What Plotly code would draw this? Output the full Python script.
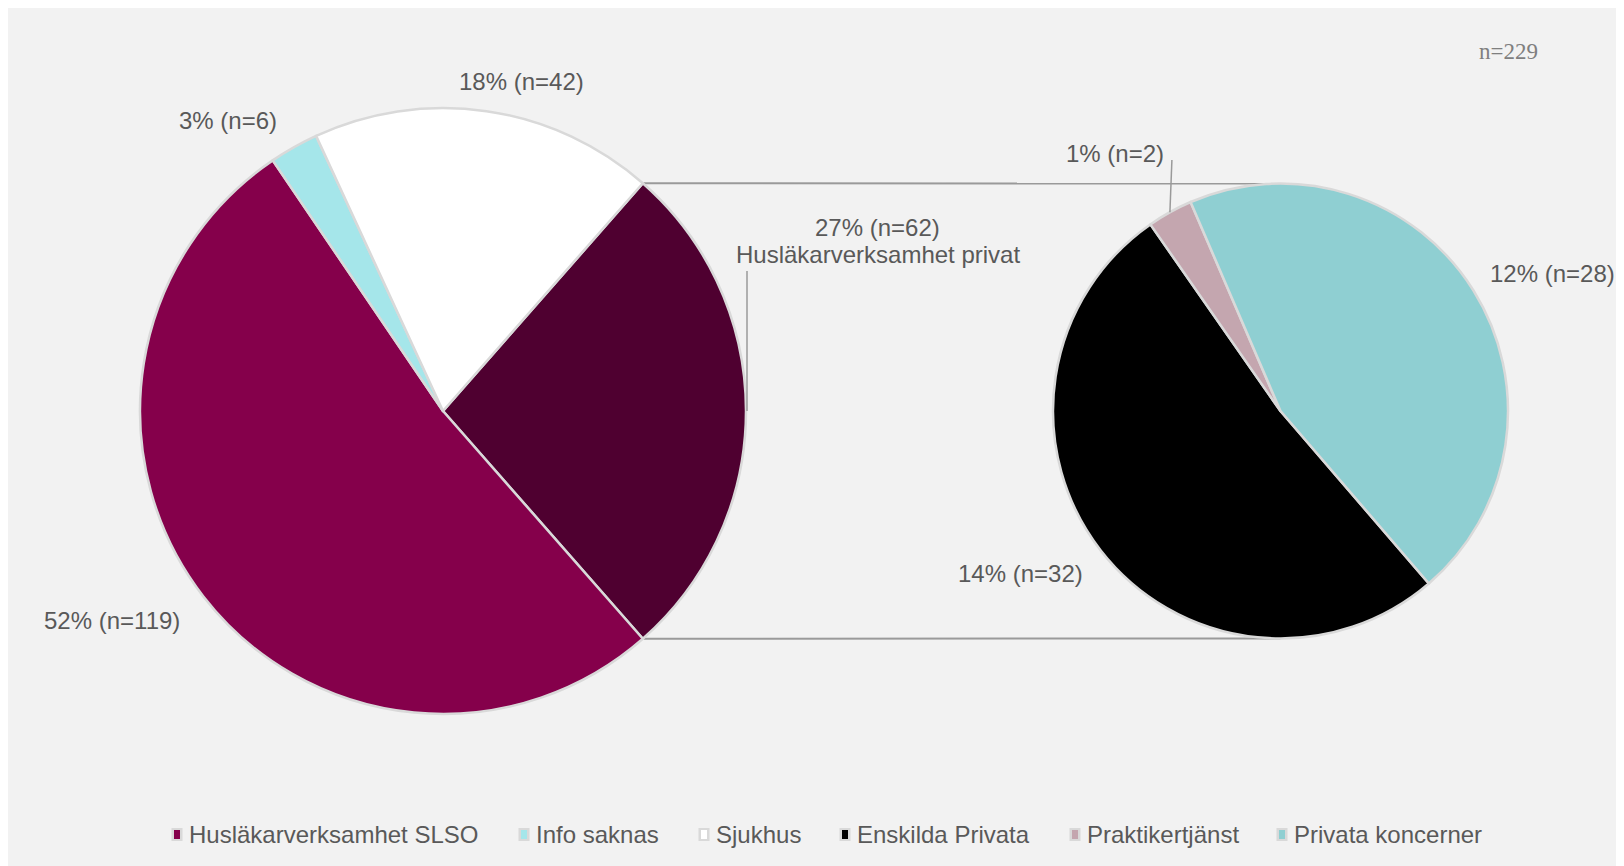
import math
import plotly.graph_objects as go

# ---------------- data ----------------
main_labels = ["Husläkarverksamhet privat", "Husläkarverksamhet SLSO", "Info saknas", "Sjukhus"]
main_values = [62, 119, 6, 42]
main_colors = ["#4F0030", "#85004B", "#A5E6EA", "#FFFFFF"]

sub_labels = ["Enskilda Privata", "Praktikertjänst", "Privata koncerner"]
sub_values = [32, 2, 28]
sub_colors = ["#000000", "#C4A6AF", "#8FCFD2"]

legend_labels = ["Husläkarverksamhet SLSO", "Info saknas", "Sjukhus",
                 "Enskilda Privata", "Praktikertjänst", "Privata koncerner"]
legend_colors = ["#85004B", "#A5E6EA", "#FFFFFF", "#000000", "#C4A6AF", "#8FCFD2"]

total_n = sum(main_values)
n_text = f"n={total_n}"

# ---------------- layout geometry (pixels in figure) ----------------
W, H = 1616, 858
BG = "#F2F2F2"
TXT = "#595959"
LINE = "#9A9A9A"
FONT = "Liberation Sans, Arial, sans-serif"
FS = 24

c1 = (435.0, 403.0); r1 = 303.0
c2 = (1272.5, 403.0); r2 = 227.5
rot1 = 90 - 180 * main_values[0] / total_n
rot2 = 139.3


def px(x):
    return x / W


def py(y):
    return 1 - y / H


def dom(c, r):
    return dict(x=[px(c[0] - r), px(c[0] + r)], y=[py(c[1] + r), py(c[1] - r)])


def rim(c, r, ang):
    a = math.radians(ang)
    return c[0] + r * math.sin(a), c[1] - r * math.cos(a)


def lab(v):
    return f"{round(100 * v / total_n)}% (n={v})"


fig = go.Figure()
fig.add_trace(go.Pie(labels=main_labels, values=main_values, sort=False,
                     direction="clockwise", rotation=rot1, domain=dom(c1, r1),
                     marker=dict(colors=main_colors, line=dict(color="#D9D9D9", width=2.5)),
                     textinfo="none", showlegend=False, hoverinfo="label+value"))
fig.add_trace(go.Pie(labels=sub_labels, values=sub_values, sort=False,
                     direction="clockwise", rotation=rot2, domain=dom(c2, r2),
                     marker=dict(colors=sub_colors, line=dict(color="#D9D9D9", width=2.5)),
                     textinfo="none", showlegend=False, hoverinfo="label+value"))

shapes = []
# connector lines between pies
a_start = rot1
a_end = rot1 + 360 * main_values[0] / total_n
p_top = rim(c1, r1, a_start)
p_bot = rim(c1, r1, a_end)
shapes.append(dict(type="line", xref="paper", yref="paper",
                   x0=px(p_top[0]), y0=py(p_top[1]), x1=px(c2[0]), y1=py(c2[1] - r2),
                   line=dict(color=LINE, width=2), layer="below"))
shapes.append(dict(type="line", xref="paper", yref="paper",
                   x0=px(p_bot[0]), y0=py(p_bot[1]), x1=px(c2[0]), y1=py(c2[1] + r2),
                   line=dict(color=LINE, width=2), layer="below"))

# leader line for the private slice label
p_mid = rim(c1, r1, 90)
shapes.append(dict(type="line", xref="paper", yref="paper",
                   x0=px(p_mid[0] + 1), y0=py(p_mid[1]), x1=px(p_mid[0] + 1), y1=py(263),
                   line=dict(color=LINE, width=1.5)))
# leader line for Praktikertjänst
a_pr = rot2 + 360 * (sub_values[0] + sub_values[1] / 2) / sum(sub_values)
p_pr = rim(c2, r2, a_pr)
shapes.append(dict(type="line", xref="paper", yref="paper",
                   x0=px(p_pr[0]), y0=py(p_pr[1]), x1=px(p_pr[0] + 2), y1=py(152),
                   line=dict(color=LINE, width=1.5)))

annotations = []


def add_text(t, x, y, size=FS, color=TXT, family=FONT, xanchor="center"):
    annotations.append(dict(text=t, x=px(x), y=py(y), xref="paper", yref="paper",
                            showarrow=False, xanchor=xanchor, yanchor="middle",
                            font=dict(size=size, color=color, family=family)))


# data labels
add_text(lab(main_values[1]), 104, 612)
add_text(lab(main_values[2]), 220, 112)
add_text(lab(main_values[3]), 513, 73)
add_text(lab(main_values[0]), 869, 220)
add_text(main_labels[0], 870, 247)
add_text(lab(sub_values[1]), 1107, 145)
add_text(lab(sub_values[2]), 1544, 265)
add_text(lab(sub_values[0]), 1012, 565)
add_text(n_text, 1500, 43, size=23, color="#7F7F7F", family="Liberation Serif, Times New Roman, serif")

# legend (manual, to match the original spacing)
legend_x = [179, 526, 706, 847, 1077, 1284]
legend_y = 826
for name, col, x in zip(legend_labels, legend_colors, legend_x):
    add_text(name, x, legend_y, xanchor="left")
    mx = x - 10
    shapes.append(dict(type="rect", xref="paper", yref="paper",
                       x0=px(mx - 5.5), x1=px(mx + 5.5), y0=py(legend_y + 7), y1=py(legend_y - 6),
                       fillcolor="#D9D9D9", line=dict(width=0)))
    shapes.append(dict(type="rect", xref="paper", yref="paper",
                       x0=px(mx - 3), x1=px(mx + 3), y0=py(legend_y + 5), y1=py(legend_y - 4),
                       fillcolor=col, line=dict(width=0)))

fig.update_layout(width=W, height=H, margin=dict(l=0, r=0, t=0, b=0, pad=0),
                  paper_bgcolor=BG, plot_bgcolor=BG, showlegend=False,
                  shapes=shapes, annotations=annotations,
                  font=dict(family=FONT, color=TXT))

fig.write_html("out.html")
